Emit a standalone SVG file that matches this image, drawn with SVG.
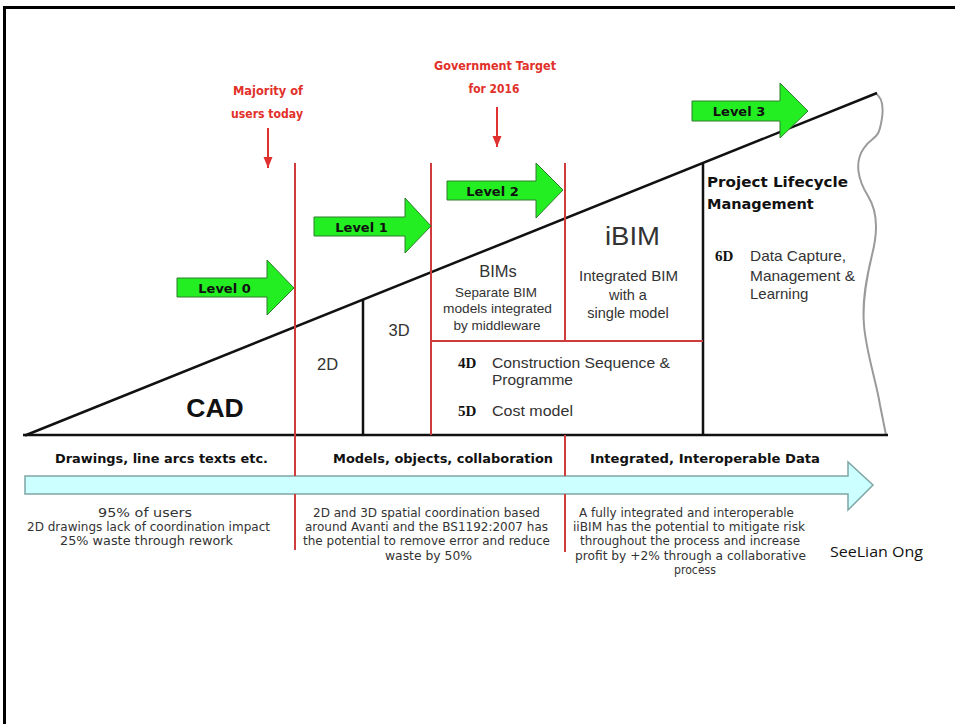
<svg xmlns="http://www.w3.org/2000/svg" width="955" height="724" viewBox="0 0 955 724">
<defs>
<marker id="redhead" markerWidth="12" markerHeight="10" refX="11" refY="5" orient="auto" markerUnits="userSpaceOnUse">
<path d="M0,0.5 L11,5 L0,9.5 Z" fill="#e03030"/>
</marker>
<style>
.frame{fill:none;stroke:#000;stroke-width:3}
.blk{stroke:#111;stroke-width:2.5;fill:none}
.red{stroke:#d03c3c;stroke-width:2;fill:none}
.redarrow{stroke:#e03030;stroke-width:2;fill:none}
.green{fill:#22ee22;stroke:#2f7d2f;stroke-width:1}
.band{fill:#ccffff;stroke:#7fa5a5;stroke-width:1.5}
.wave{fill:none;stroke:#9a9a9a;stroke-width:2}
.lvl{font-family:"DejaVu Sans",sans-serif;font-weight:bold;font-size:13px;fill:#111;text-anchor:middle}
.redlbl{font-family:"DejaVu Sans",sans-serif;font-weight:bold;font-size:12px;fill:#e2302a;text-anchor:middle}
.ar{font-family:"Liberation Sans",Arial,sans-serif;fill:#333}
.mid{text-anchor:middle}
.bold{font-family:"DejaVu Sans",sans-serif;font-weight:bold;fill:#111}
.ser{font-family:"Liberation Serif",serif;font-weight:bold;font-size:15px;fill:#111}
.desc{font-family:"DejaVu Sans",sans-serif;font-size:11.5px;fill:#333;text-anchor:middle}
</style>
</defs>
<rect width="955" height="724" fill="#fff"/>
<path class="frame" d="M4.5,724 L4.5,7.5 L955,7.5"/>

<g id="connectors">
<line class="redarrow" x1="268" y1="128" x2="268" y2="168" marker-end="url(#redhead)"/>
<line class="redarrow" x1="497" y1="107" x2="497" y2="147" marker-end="url(#redhead)"/>
</g>

<g id="band-arrow">
<polygon class="band" points="25,476 848,476 848,462 873,485 848,510 848,494 25,494"/>
</g>

<g id="triangle">
<path class="wave" d="M875,93 C884,98 884,112 880,128 C877,140 870,138 864,148 C854,162 858,180 868,196 C878,212 878,232 872,255 C866,280 862,302 864,325 C866,352 876,380 880,405 C883,420 885,430 886,435"/>
<line class="blk" x1="25" y1="435.5" x2="877" y2="93"/>
<line class="blk" x1="23" y1="435" x2="888" y2="435"/>
<line class="blk" x1="363" y1="300" x2="363" y2="435"/>
<line class="blk" x1="703" y1="164" x2="703" y2="435"/>
</g>

<g id="red-dividers">
<line class="red" x1="295" y1="163" x2="295" y2="476"/>
<line class="red" x1="295" y1="494" x2="295" y2="550"/>
<line class="red" x1="431" y1="163" x2="431" y2="435"/>
<line class="red" x1="565" y1="163" x2="565" y2="341"/>
<line class="red" x1="431" y1="341" x2="703" y2="341"/>
<line class="red" x1="565" y1="435" x2="565" y2="476"/>
<line class="red" x1="565" y1="494" x2="565" y2="552"/>
</g>

<g id="label-majority">
<text class="redlbl" x="268" y="95" textLength="70" lengthAdjust="spacingAndGlyphs">Majority of</text>
<text class="redlbl" x="267" y="118" textLength="72" lengthAdjust="spacingAndGlyphs">users today</text>
</g>
<g id="label-government">
<text class="redlbl" x="495" y="70" textLength="122" lengthAdjust="spacingAndGlyphs">Government Target</text>
<text class="redlbl" x="494" y="93" textLength="51" lengthAdjust="spacingAndGlyphs">for 2016</text>
</g>

<g id="level0">
<polygon class="green" points="177,278 267,278 267,260 294,288 267,315 267,297 177,297"/>
<text class="lvl" x="224.5" y="293">Level 0</text>
</g>
<g id="level1">
<polygon class="green" points="314,217 405,217 405,198 431,226 405,253 405,236 314,236"/>
<text class="lvl" x="361.5" y="232">Level 1</text>
</g>
<g id="level2">
<polygon class="green" points="447,181 536,181 536,163 563,190 536,218 536,200 447,200"/>
<text class="lvl" x="492.5" y="196">Level 2</text>
</g>
<g id="level3">
<polygon class="green" points="692,101 780,101 780,83 808,111 780,138 780,121 692,121"/>
<text class="lvl" x="739" y="116">Level 3</text>
</g>

<g id="cad">
<text x="215" y="417" font-family="'Liberation Sans',Arial,sans-serif" font-size="26.5" font-weight="bold" fill="#111" text-anchor="middle">CAD</text>
</g>
<g id="d2">
<text class="ar mid" x="327.5" y="370" font-size="16.5">2D</text>
</g>
<g id="d3">
<text class="ar mid" x="399" y="336" font-size="16.5">3D</text>
</g>
<g id="bims">
<text class="ar mid" x="498" y="277" font-size="16.5">BIMs</text>
<text class="ar mid" x="496" y="297" font-size="13.5" textLength="82" lengthAdjust="spacingAndGlyphs">Separate BIM</text>
<text class="ar mid" x="497.5" y="313" font-size="13.5" textLength="109" lengthAdjust="spacingAndGlyphs">models integrated</text>
<text class="ar mid" x="497" y="330" font-size="13.5">by middleware</text>
</g>
<g id="ibim">
<text class="ar mid" x="632.5" y="245" font-size="26" textLength="55" lengthAdjust="spacingAndGlyphs">iBIM</text>
<text class="ar mid" x="628.5" y="281" font-size="14.5" textLength="99" lengthAdjust="spacingAndGlyphs">Integrated BIM</text>
<text class="ar mid" x="628" y="300" font-size="14.5">with a</text>
<text class="ar mid" x="628" y="318" font-size="14.5">single model</text>
</g>
<g id="d4d5">
<text class="ser" x="458" y="368">4D</text>
<text class="ar" x="492" y="368" font-size="15.5" textLength="178" lengthAdjust="spacingAndGlyphs">Construction Sequence &amp;</text>
<text class="ar" x="492" y="385" font-size="15.5">Programme</text>
<text class="ser" x="458" y="416">5D</text>
<text class="ar" x="492" y="416" font-size="15.5" textLength="81" lengthAdjust="spacingAndGlyphs">Cost model</text>
</g>
<g id="plm">
<text class="bold" x="707" y="187" font-size="14.5" textLength="141" lengthAdjust="spacingAndGlyphs">Project Lifecycle</text>
<text class="bold" x="707" y="209" font-size="14.5">Management</text>
<text class="ser" x="715" y="261">6D</text>
<text class="ar" x="750" y="261" font-size="15" textLength="96" lengthAdjust="spacingAndGlyphs">Data Capture,</text>
<text class="ar" x="750" y="281" font-size="15" textLength="105" lengthAdjust="spacingAndGlyphs">Management &amp;</text>
<text class="ar" x="750" y="299" font-size="15">Learning</text>
</g>

<g id="band-labels">
<text class="bold" x="161.5" y="463" font-size="13" text-anchor="middle" textLength="213" lengthAdjust="spacingAndGlyphs">Drawings, line arcs texts etc.</text>
<text class="bold" x="443" y="463" font-size="13" text-anchor="middle" textLength="220" lengthAdjust="spacingAndGlyphs">Models, objects, collaboration</text>
<text class="bold" x="705" y="463" font-size="13" text-anchor="middle" textLength="230" lengthAdjust="spacingAndGlyphs">Integrated, Interoperable Data</text>
</g>

<g id="desc-level0">
<text class="desc" x="145" y="517" textLength="94" lengthAdjust="spacingAndGlyphs">95% of users</text>
<text class="desc" x="148.5" y="531" textLength="243" lengthAdjust="spacingAndGlyphs">2D drawings lack of coordination impact</text>
<text class="desc" x="146.5" y="545" textLength="173" lengthAdjust="spacingAndGlyphs">25% waste through rework</text>
</g>
<g id="desc-level1">
<text class="desc" x="426.5" y="517" textLength="227" lengthAdjust="spacingAndGlyphs">2D and 3D spatial coordination based</text>
<text class="desc" x="426.5" y="531" textLength="243" lengthAdjust="spacingAndGlyphs">around Avanti and the BS1192:2007 has</text>
<text class="desc" x="426.5" y="545" textLength="247" lengthAdjust="spacingAndGlyphs">the potential to remove error and reduce</text>
<text class="desc" x="428.5" y="560" textLength="87" lengthAdjust="spacingAndGlyphs">waste by 50%</text>
</g>
<g id="desc-level2">
<text class="desc" x="686.5" y="517" textLength="215" lengthAdjust="spacingAndGlyphs">A fully integrated and interoperable</text>
<text class="desc" x="689" y="531" textLength="232" lengthAdjust="spacingAndGlyphs">iiBIM has the potential to mitigate risk</text>
<text class="desc" x="690" y="545" textLength="220" lengthAdjust="spacingAndGlyphs">throughout the process and increase</text>
<text class="desc" x="690.5" y="560" textLength="231" lengthAdjust="spacingAndGlyphs">profit by +2% through a collaborative</text>
<text class="desc" x="695" y="574" textLength="42" lengthAdjust="spacingAndGlyphs">process</text>
</g>

<g id="author">
<text x="830" y="557" font-family="'Open Sans','Liberation Sans',sans-serif" font-size="14.5" fill="#111" textLength="93" lengthAdjust="spacingAndGlyphs">SeeLian Ong</text>
</g>
</svg>
